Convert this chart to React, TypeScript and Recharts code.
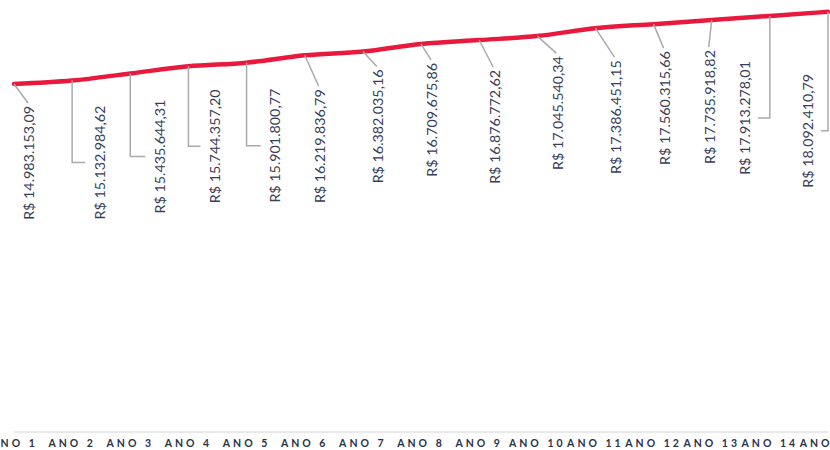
import { Line, LineChart, XAxis, YAxis, LabelList } from "recharts";

const categories = [
  "ANO 1", "ANO 2", "ANO 3", "ANO 4", "ANO 5", "ANO 6", "ANO 7", "ANO 8",
  "ANO 9", "ANO 10", "ANO 11", "ANO 12", "ANO 13", "ANO 14", "ANO 15",
];

const values = [
  14983153.09, 15132984.62, 15435644.31, 15744357.2, 15901800.77,
  16219836.79, 16382035.16, 16709675.86, 16876772.62, 17045540.34,
  17386451.15, 17560315.66, 17735918.82, 17913278.01, 18092410.79,
];

const data = categories.map((ano, i) => ({ ano, valor: values[i] }));

// label placement: "d" = straight leader (dx, dy), "e" = elbow (drop, side)
const labelLayout: [string, number, number][] = [
  ["d", 14, 19], ["e", 82, 13], ["e", 83, 15], ["e", 80, 12], ["e", 83, 14],
  ["d", 14, 31], ["d", 14, 15], ["d", 10, 16], ["d", 14, 27], ["d", 19, 17],
  ["d", 19, 29], ["d", 10, 24], ["d", -3, 27], ["e", 102, -12], ["e", 119, -7],
];

const fmt = (v: number) =>
  "R$ " +
  v.toLocaleString("pt-BR", { minimumFractionDigits: 2, maximumFractionDigits: 2 });

const textStyle = { fontFamily: "Lato", fontSize: 14.3, fill: "#383d58" };

function ValueLabel(props: any) {
  const { x, y, value, index } = props;
  const [kind, a, b] = labelLayout[index];
  if (kind === "d") {
    const ex = x + a;
    const ey = y + b;
    const tx = ex + 1;
    const ty = ey + 3;
    return (
      <g>
        <line x1={x} y1={y} x2={ex} y2={ey} stroke="#aaaaaa" strokeWidth={1.5} />
        <text
          x={tx}
          y={ty}
          transform={`rotate(-90, ${tx}, ${ty})`}
          textAnchor="end"
          dominantBaseline="central"
          style={textStyle}
        >
          {fmt(value)}
        </text>
      </g>
    );
  }
  const ey = y + a;
  const ex = x + b;
  const tx = ex + (b > 0 ? 14 : -13);
  return (
    <g>
      <polyline
        points={`${x},${y} ${x},${ey} ${ex},${ey}`}
        fill="none"
        stroke="#aaaaaa"
        strokeWidth={1.5}
      />
      <text
        x={tx}
        y={ey}
        transform={`rotate(-90, ${tx}, ${ey})`}
        textAnchor="middle"
        dominantBaseline="central"
        style={textStyle}
      >
        {fmt(value)}
      </text>
    </g>
  );
}

function AnoTick(props: any) {
  const { x, y, payload } = props;
  return (
    <text
      x={x}
      y={y + 13}
      textAnchor="middle"
      style={{
        fontFamily: "Lato",
        fontSize: 10.5,
        fontWeight: 700,
        letterSpacing: 3,
        fill: "#2c3148",
      }}
    >
      {payload.value}
    </text>
  );
}

export default function App() {
  return (
    <div style={{ position: "absolute", left: 0, top: 0, background: "#fff" }}>
      <LineChart
        width={830}
        height={450}
        data={data}
        margin={{ top: 0, right: 2, left: 14, bottom: 0 }}
      >
        <XAxis
          dataKey="ano"
          interval={0}
          height={18}
          tickLine={false}
          tickSize={0}
          axisLine={{ stroke: "#e2e2e2", strokeWidth: 1.5 }}
          tick={<AnoTick />}
        />
        <YAxis hide domain={[0, 18600000]} />
        <Line
          type="monotone"
          dataKey="valor"
          stroke="#e8193c"
          strokeWidth={4.5}
          strokeLinecap="round"
          dot={false}
          isAnimationActive={false}
        >
          <LabelList dataKey="valor" content={<ValueLabel />} />
        </Line>
      </LineChart>
    </div>
  );
}
